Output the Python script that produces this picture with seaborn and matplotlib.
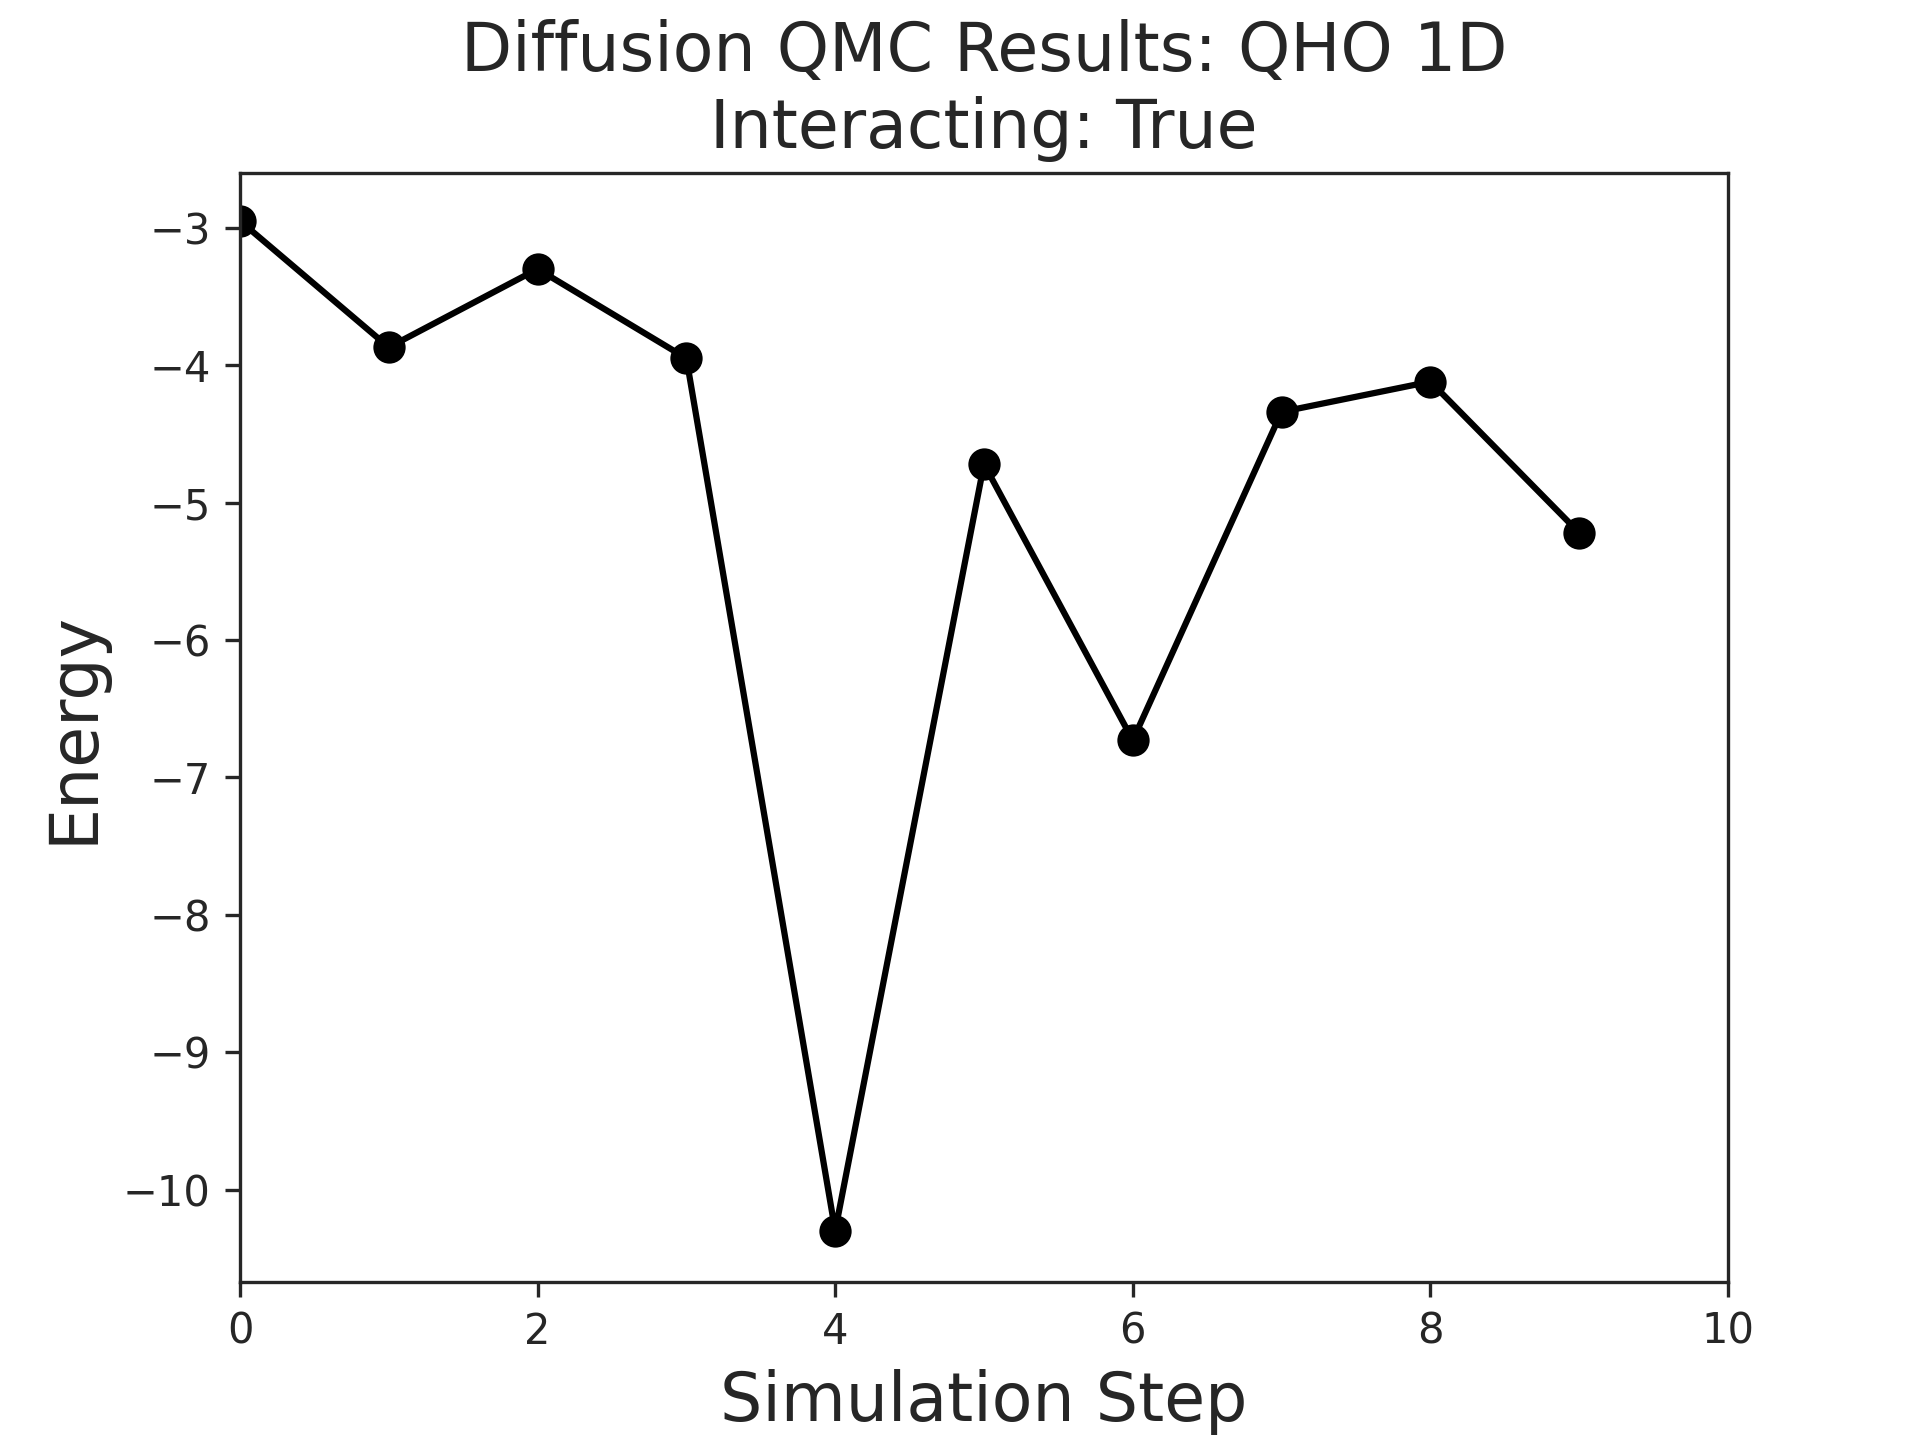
import matplotlib
matplotlib.use("Agg")
import matplotlib.pyplot as plt
import seaborn as sns
import pandas as pd

steps = [0, 1, 2, 3, 4, 5, 6, 7, 8, 9]
energy = [-2.95, -3.87, -3.30, -3.95, -10.30, -4.72, -6.73, -4.34, -4.12, -5.22]

sns.set_style("ticks")
plt.rcParams['font.family'] = ['DejaVu Sans']
fig, ax = plt.subplots(figsize=(6.4, 4.8), dpi=300)
df = pd.DataFrame({"step": steps, "energy": energy})
sns.lineplot(data=df, x="step", y="energy", ax=ax, color="black", marker="o",
             markersize=7, markeredgecolor="black", linewidth=1.5)
ax.set_xlim(0, 10)
ax.set_ylim(-10.67, -2.6)
ax.set_title("Diffusion QMC Results: QHO 1D\nInteracting: True", fontsize=16)
ax.set_xlabel("Simulation Step", fontsize=16)
ax.set_ylabel("Energy", fontsize=16)
fig.savefig("out.png", dpi=300)
